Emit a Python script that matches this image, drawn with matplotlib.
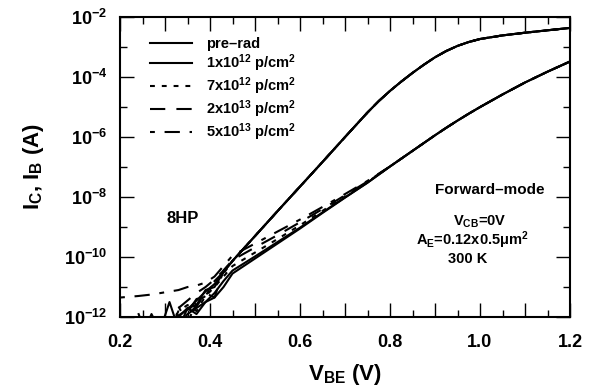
import numpy as np
import matplotlib
matplotlib.use("Agg")
import matplotlib.pyplot as plt
from matplotlib.ticker import FixedLocator, FixedFormatter, NullFormatter

# ============================================
# DATOS (log10 de la corriente)
# ============================================
vbe = [0.20, 0.24, 0.27, 0.29, 0.31, 0.33, 0.35, 0.37, 0.39, 0.41, 0.43,
       0.45, 0.50, 0.55, 0.60, 0.65, 0.70, 0.75, 0.775, 0.80, 0.825, 0.85,
       0.875, 0.90, 0.925, 0.95, 0.975, 1.00, 1.05, 1.10, 1.15, 1.20]

etiquetas = ["pre\u2013rad",
             r"1x10$^{12}$ p/cm$^{2}$",
             r"7x10$^{12}$ p/cm$^{2}$",
             r"2x10$^{13}$ p/cm$^{2}$",
             r"5x10$^{13}$ p/cm$^{2}$"]

# corriente de colector (igual para todas las dosis por encima de 0.45 V)
ic_alto = [-10.13, -9.3, -8.47, -7.65, -6.83, -6.0, -5.18, -4.8, -4.46, -4.15,
           -3.86, -3.59, -3.34, -3.13, -2.96, -2.83, -2.73, -2.61, -2.52, -2.44, -2.36]

ic_pre = [-13, -13, -13, -12.6, -12.3, -11.95, -11.75, -11.45, -11.15, -10.9, -10.5] + ic_alto
ic_1e12 = [-13, -12.7, -13, -12.4, -11.5, -12.4, -11.7, -11.6, -11.1, -11.0, -10.5] + ic_alto
ic_7e12 = [-13, -13, -12.5, -13, -13, -11.65, -12.2, -11.5, -11.3, -10.85, -10.55] + ic_alto
ic_2e13 = [-13, -13, -13, -12.7, -13, -13, -11.9, -11.65, -11.2, -11.35, -10.45] + ic_alto
ic_5e13 = [-13, -11.85, -13, -13, -12.5, -11.95, -11.85, -11.4, -11.3, -10.8, -10.5] + ic_alto

# corriente de base (por encima de 0.8 V todas coinciden)
ib_comun = [-6.98, -6.72, -6.46, -6.2, -5.94, -5.69, -5.45, -5.22, -5.0,
            -4.58, -4.18, -3.82, -3.48]

ib_pre = [-13, -12.6, -13, -13, -12.5, -12.3, -11.9, -11.7, -11.5, -11.35, -11.0,
          -10.55, -10.05, -9.55, -9.05, -8.53, -8.02, -7.52, -7.25] + ib_comun
ib_1e12 = [-13, -13, -11.9, -12.5, -13, -12.0, -11.7, -11.9, -11.5, -11.2, -10.8,
           -10.45, -9.98, -9.5, -9.02, -8.51, -8.01, -7.52, -7.25] + ib_comun
ib_7e12 = [-13, -13, -12.7, -13, -12.4, -11.8, -11.6, -11.8, -11.3, -11.0, -10.65,
           -10.3, -9.85, -9.4, -8.94, -8.46, -7.98, -7.5, -7.24] + ib_comun
ib_2e13 = [-13, -13, -13, -12.6, -12.2, -11.7, -11.45, -11.2, -11.0, -10.75, -10.45,
           -10.1, -9.68, -9.27, -8.84, -8.4, -7.94, -7.48, -7.23] + ib_comun
ib_5e13 = [-11.35, -11.3, -11.25, -11.2, -11.15, -11.1, -11.0, -10.95, -10.85, -10.65, -10.3,
           -9.95, -9.55, -9.15, -8.75, -8.33, -7.9, -7.46, -7.22] + ib_comun

# ============================================
# ESTILO
# ============================================
plt.rcParams['font.family'] = ['Liberation Sans', 'DejaVu Sans']
plt.rcParams['font.weight'] = 'bold'
plt.rcParams['axes.labelweight'] = 'bold'
plt.rcParams['mathtext.fontset'] = 'custom'
plt.rcParams['mathtext.rm'] = 'Liberation Sans:bold'
plt.rcParams['mathtext.it'] = 'Liberation Sans:bold'
plt.rcParams['mathtext.bf'] = 'Liberation Sans:bold'
plt.rcParams['mathtext.default'] = 'rm'
plt.rcParams['lines.scale_dashes'] = False

estilos = [
    dict(linestyle='-'),
    dict(linestyle='-'),
    dict(linestyle=(0, (3.5, 5))),
    dict(linestyle=(0, (11, 8))),
    dict(linestyle=(0, (3.5, 7, 11, 7))),
]

fig = plt.figure(figsize=(6, 3.89), dpi=100)
ax = fig.add_axes([0.2, 0.185, 0.75, 0.771])

v = np.array(vbe)
series_ic = [ic_pre, ic_1e12, ic_7e12, ic_2e13, ic_5e13]
series_ib = [ib_pre, ib_1e12, ib_7e12, ib_2e13, ib_5e13]

for ic, ib, est, lab in zip(series_ic, series_ib, estilos, etiquetas):
    ax.semilogy(v, 10.0 ** np.array(ic), color='black', lw=1.5, label=lab, **est)
    ax.semilogy(v, 10.0 ** np.array(ib), color='black', lw=1.5, **est)

ax.set_xlim(0.2, 1.2)
ax.set_ylim(1e-12, 1e-2)

# ticks
xt = np.round(np.arange(0.2, 1.21, 0.1), 2)
ax.xaxis.set_major_locator(FixedLocator(xt))
ax.xaxis.set_major_formatter(FixedFormatter(["%.1f" % t if i % 2 == 0 else "" for i, t in enumerate(xt)]))
ax.xaxis.set_minor_locator(FixedLocator(np.round(np.arange(0.25, 1.2, 0.1), 2)))
ax.xaxis.set_minor_formatter(NullFormatter())

yt = [10.0 ** e for e in range(-12, -1, 2)]
ax.yaxis.set_major_locator(FixedLocator(yt))
ax.yaxis.set_major_formatter(FixedFormatter([r"10$^{%d}$" % e for e in range(-12, -1, 2)]))
ax.yaxis.set_minor_locator(FixedLocator([10.0 ** e for e in range(-11, -2, 2)]))
ax.yaxis.set_minor_formatter(NullFormatter())

ax.tick_params(which='both', direction='in', top=True, right=True, width=1.0)
ax.tick_params(which='major', length=10, labelsize=13, pad=9)
ax.tick_params(which='minor', length=5)
ax.tick_params(axis='x', which='major', pad=12)
for s in ax.spines.values():
    s.set_linewidth(1.5)

ax.set_xlabel(r"V$_{BE}$ (V)", fontsize=16, labelpad=8)
ax.set_ylabel(r"I$_{C}$, I$_{B}$ (A)", fontsize=16, labelpad=13)

ax.legend(loc='upper left', bbox_to_anchor=(0.067, 0.935), frameon=False,
          fontsize=10.5, handlelength=2.9, handletextpad=0.9,
          labelspacing=0.1, borderaxespad=0, borderpad=0)

ax.text(0.14, 0.327, "8HP", transform=ax.transAxes, fontsize=12, ha='center', va='center')
ax.text(0.822, 0.423, "Forward\u2013mode", transform=ax.transAxes, fontsize=11, ha='center', va='center')
ax.text(0.8, 0.317, r"V$_{CB}$=0V", transform=ax.transAxes, fontsize=10.5, ha='center', va='center')
ax.text(0.782, 0.257, r"A$_{E}$=0.12x0.5μm$^{2}$", transform=ax.transAxes, fontsize=10.5, ha='center', va='center')
ax.text(0.773, 0.193, "300 K", transform=ax.transAxes, fontsize=10.5, ha='center', va='center')

fig.savefig("out.png", dpi=100)
